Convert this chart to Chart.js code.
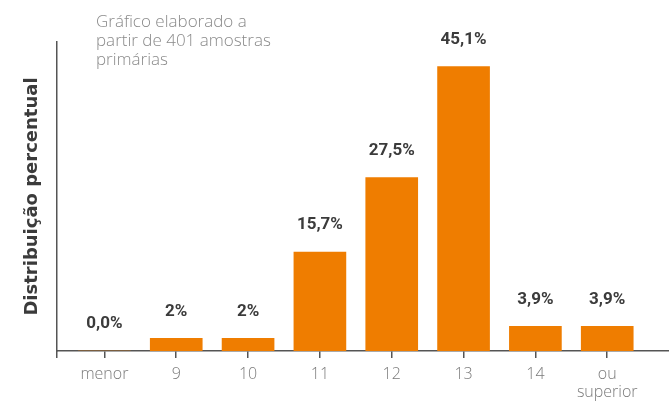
<!DOCTYPE html>
<html>
<head>
<meta charset="utf-8">
<script src="https://cdn.jsdelivr.net/npm/chart.js@4"></script>
<style>
  html, body { margin: 0; padding: 0; background: #ffffff; }
  #wrap { width: 669px; height: 403px; }
</style>
</head>
<body>
<div id="wrap"><canvas id="ageChart" width="669" height="403"></canvas></div>
<script>
// Categories and percentages
const categories = ['menor', '9', '10', '11', '12', '13', '14', ['ou', 'superior']];
const percentValues = [0.0, 2, 2, 15.7, 27.5, 45.1, 3.9, 3.9];
const labelDecimals = [1, 0, 0, 1, 1, 1, 1, 1];
const noteLines = ['Gráfico elaborado a', 'partir de 401 amostras', 'primárias'];

const X_MIN = -0.66;
const X_MAX = 7.86;

function formatPercent(v, i) {
    return v.toFixed(labelDecimals[i]).replace('.', ',') + '%';
}

// Value labels above each bar
const valueLabels = {
    id: 'valueLabels',
    afterDatasetsDraw(chart) {
        const ctx = chart.ctx;
        const meta = chart.getDatasetMeta(0);
        ctx.save();
        ctx.font = 'bold 17px Roboto';
        ctx.fillStyle = '#3b3b3b';
        ctx.textAlign = 'center';
        ctx.textBaseline = 'middle';
        meta.data.forEach((bar, i) => {
            ctx.fillText(formatPercent(percentValues[i], i), bar.x, bar.y - 27);
        });
        ctx.restore();
    }
};

// Sample note in the top left
const sampleNote = {
    id: 'sampleNote',
    afterDraw(chart) {
        const ctx = chart.ctx;
        ctx.save();
        ctx.font = '300 17px "Open Sans"';
        ctx.fillStyle = '#8a8a8a';
        ctx.textAlign = 'left';
        ctx.textBaseline = 'middle';
        noteLines.forEach((line, i) => {
            ctx.fillText(line, 96, 22 + i * 19);
        });
        ctx.restore();
    }
};

const ctx = document.getElementById('ageChart').getContext('2d');

new Chart(ctx, {
    type: 'bar',
    data: {
        datasets: [{
            data: percentValues.map((v, i) => ({ x: i, y: v })),
            backgroundColor: '#ef7d00',
            borderWidth: 0,
            barThickness: 52
        }]
    },
    options: {
        responsive: false,
        animation: false,
        layout: { padding: { top: 42, right: 0, left: 0, bottom: 0 } },
        plugins: {
            legend: { display: false },
            tooltip: { enabled: false }
        },
        scales: {
            x: {
                type: 'linear',
                offset: false,
                z: 1,
                min: X_MIN,
                max: X_MAX,
                afterBuildTicks(scale) {
                    scale.ticks = [{ value: X_MIN }].concat(categories.map((_, i) => ({ value: i })));
                },
                afterFit(scale) { scale.height = 52; },
                border: { display: true, color: '#555555', width: 1.5 },
                grid: {
                    offset: false,
                    drawOnChartArea: false,
                    drawTicks: true,
                    tickLength: 7,
                    color: '#555555',
                    lineWidth: 1.5
                },
                ticks: {
                    autoSkip: false,
                    maxRotation: 0,
                    padding: 7,
                    color: '#7a7a7a',
                    font: { family: 'Open Sans', size: 16, weight: '300', lineHeight: 1.15 },
                    callback(value) {
                        return Number.isInteger(value) ? categories[value] : '';
                    }
                }
            },
            y: {
                min: 0,
                max: 49,
                afterFit(scale) { scale.width = 57; },
                border: { display: true, color: '#555555', width: 1.5 },
                grid: { display: false },
                ticks: { display: false },
                title: {
                    display: true,
                    text: 'Distribuição percentual',
                    color: '#3b3b3b',
                    font: { family: 'DejaVu Sans', size: 18, weight: 'bold' },
                    padding: { top: 22, bottom: 0 }
                }
            }
        }
    },
    plugins: [valueLabels, sampleNote]
});
</script>
</body>
</html>
